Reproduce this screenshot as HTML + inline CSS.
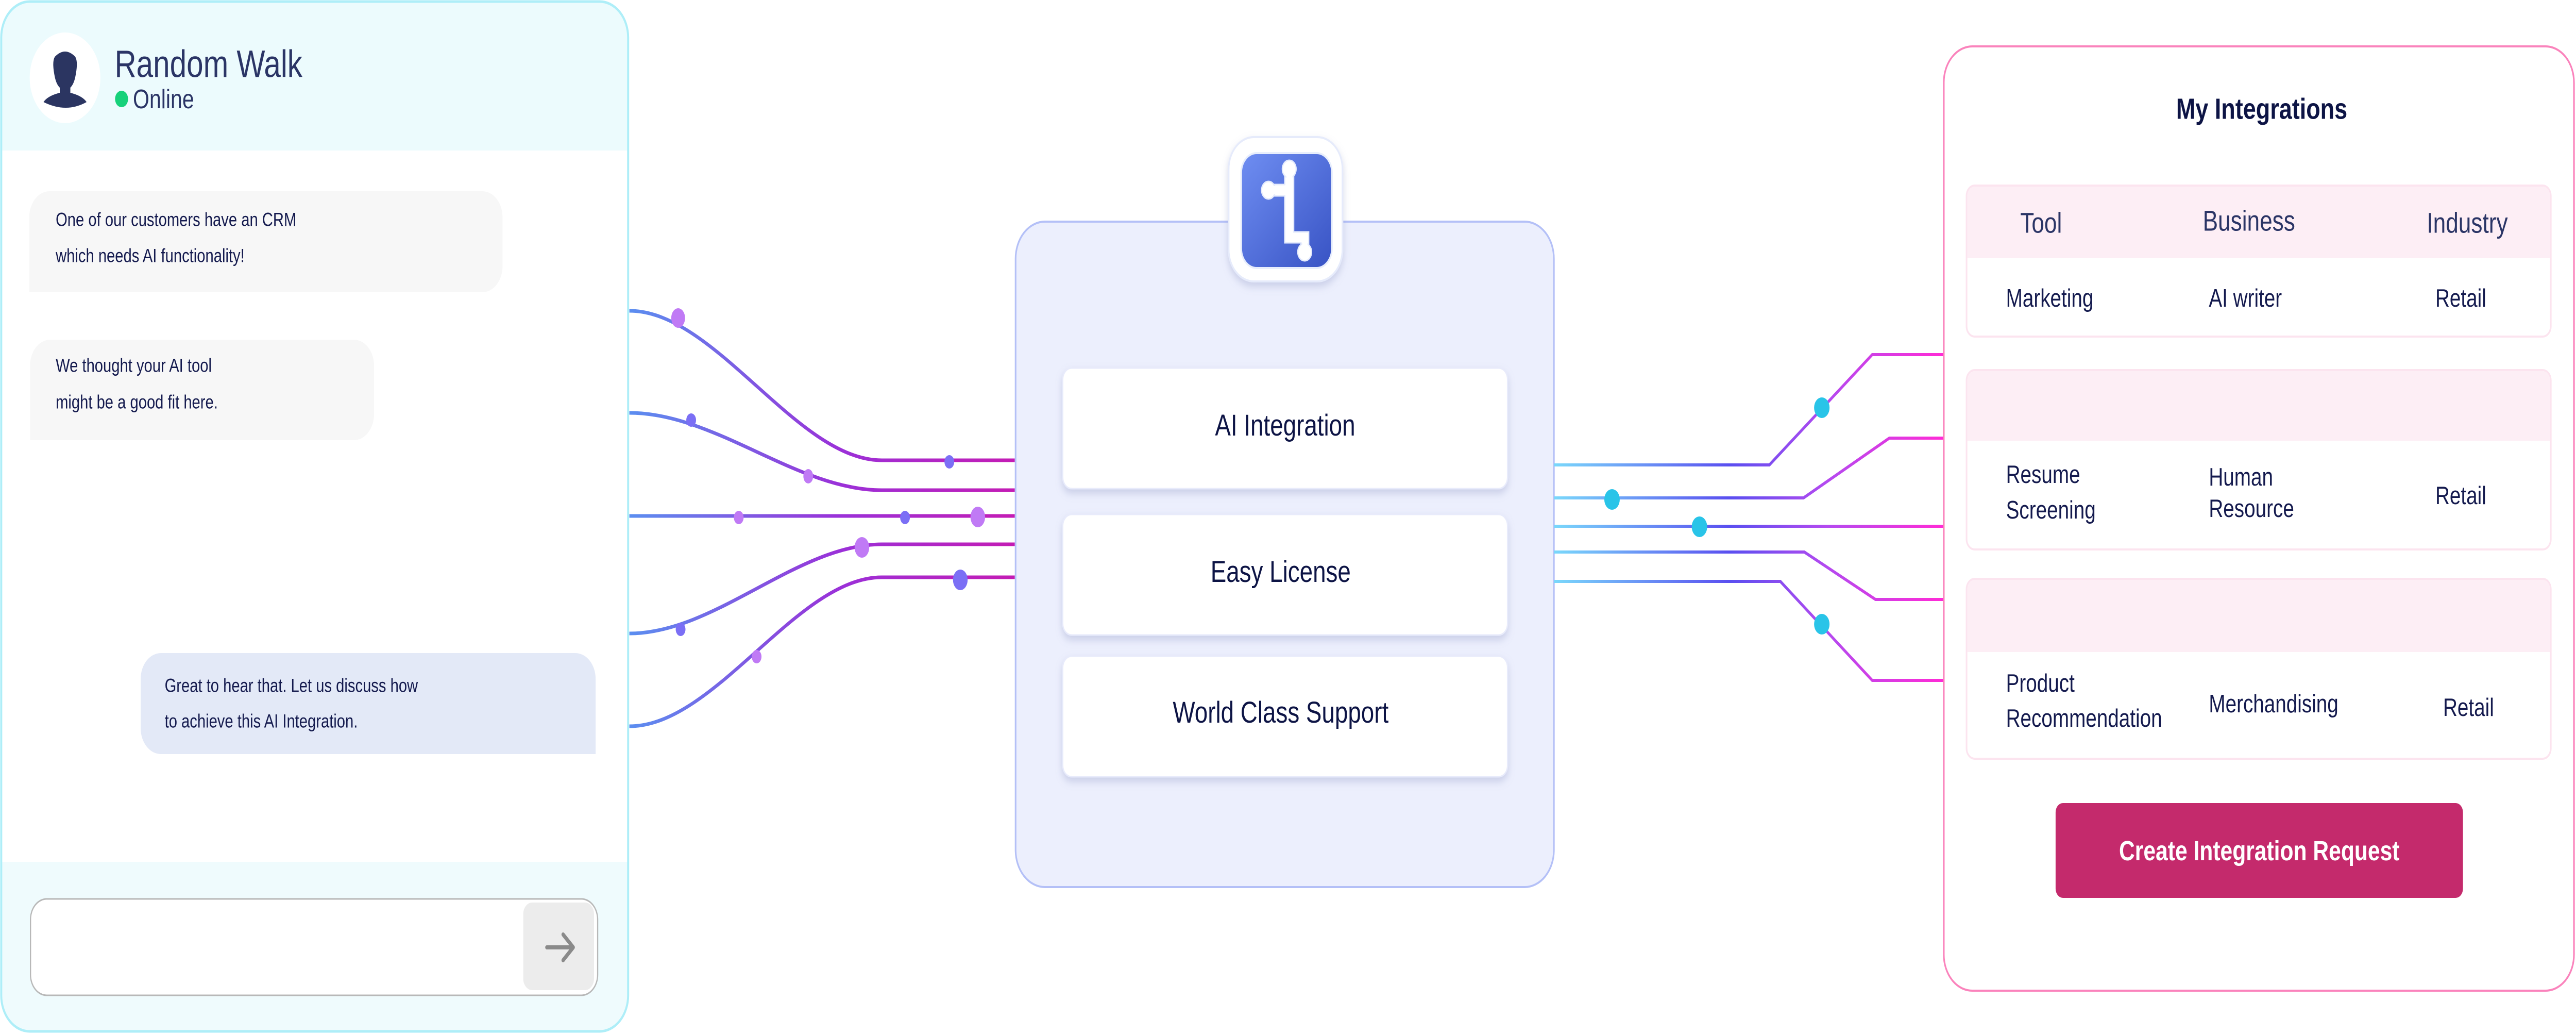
<!DOCTYPE html>
<html><head><meta charset="utf-8"><style>
html,body{margin:0;padding:0;background:#fff;overflow:hidden;width:100%;height:100%;}
svg{display:block;width:100vw;height:100vh;}
text{font-family:"Liberation Sans",sans-serif;}
</style></head><body>
<svg viewBox="0 0 6336 2008" preserveAspectRatio="none" xmlns="http://www.w3.org/2000/svg">
<defs>
<linearGradient id="gl" x1="1548" y1="0" x2="2496" y2="0" gradientUnits="userSpaceOnUse">
<stop offset="0" stop-color="#5b8ef0"/><stop offset="0.55" stop-color="#9b30d8"/><stop offset="1" stop-color="#c41cb4"/></linearGradient>
<linearGradient id="gr" x1="3822" y1="0" x2="4780" y2="0" gradientUnits="userSpaceOnUse">
<stop offset="0" stop-color="#7ad8fb"/><stop offset="0.45" stop-color="#5a4ff0"/><stop offset="0.7" stop-color="#b44af0"/><stop offset="1" stop-color="#ff2bd6"/></linearGradient>
<linearGradient id="gi" x1="0" y1="0" x2="1" y2="1">
<stop offset="0" stop-color="#6f8ef2"/><stop offset="1" stop-color="#3853c4"/></linearGradient>
<filter id="sh" x="-10%" y="-10%" width="120%" height="140%"><feDropShadow dx="0" dy="8" stdDeviation="8" flood-color="#8890c0" flood-opacity="0.35"/></filter>
<clipPath id="lp"><rect x="3" y="3" width="1542" height="1998" rx="70"/></clipPath>
</defs>

<!-- LEFT PANEL -->
<g clip-path="url(#lp)">
<rect x="0" y="0" width="1548" height="2004" fill="#fff"/>
<rect x="0" y="0" width="1548" height="292" fill="#ecfbfd"/>
<rect x="0" y="1672" width="1548" height="340" fill="#effbfd"/>
</g>
<rect x="3" y="3" width="1542" height="1998" rx="70" fill="none" stroke="#aeeef8" stroke-width="5"/>
<ellipse cx="160" cy="151" rx="87" ry="88" fill="#fff"/>
<path d="M135 150 q-8 -30 0 -40 q25 -20 50 0 q8 10 0 40 q-4 14 -12 20 v10 q30 6 40 18 q-50 22 -106 0 q10 -12 40 -18 v-10 q-8 -6 -12 -20z" fill="#2b3561"/>
<text x="282" y="125" font-size="74" fill="#2b3566" dominant-baseline="central">Random Walk</text>
<circle cx="299" cy="192" r="16" fill="#17d17a"/>
<text x="327" y="192" font-size="52" fill="#2b3566" dominant-baseline="central">Online</text>

<path d="M72 371 H1186 a50 50 0 0 1 50 50 V517 a50 50 0 0 1 -50 50 H72 V421 a50 50 0 0 1 50 -50z" fill="#f7f7f7"/>
<text x="137" y="427" font-size="37" fill="#141a4e" dominant-baseline="central">One of our customers have an CRM</text>
<text x="137" y="497" font-size="37" fill="#141a4e" dominant-baseline="central">which needs AI functionality!</text>

<path d="M74 659 H870 a50 50 0 0 1 50 50 V804 a50 50 0 0 1 -50 50 H74 V709 a50 50 0 0 1 50 -50z" fill="#f7f7f7"/>
<text x="137" y="710" font-size="37" fill="#141a4e" dominant-baseline="central">We thought your AI tool</text>
<text x="137" y="781" font-size="37" fill="#141a4e" dominant-baseline="central">might be a good fit here.</text>

<path d="M396 1267 H1415 a50 50 0 0 1 50 50 V1463 H396 a50 50 0 0 1 -50 -50 V1317 a50 50 0 0 1 50 -50z" fill="#e3e9f7"/>
<text x="405" y="1331" font-size="37" fill="#141a4e" dominant-baseline="central">Great to hear that. Let us discuss how</text>
<text x="405" y="1400" font-size="37" fill="#141a4e" dominant-baseline="central">to achieve this AI Integration.</text>

<rect x="75" y="1744" width="1395" height="187" rx="40" fill="#fff" stroke="#b8b8b8" stroke-width="3"/>
<rect x="1287" y="1751" width="174" height="170" rx="22" fill="#ececec"/>
<path d="M1345 1838 H1410 M1385 1813 L1410 1838 L1385 1863" fill="none" stroke="#8a8a8a" stroke-width="8" stroke-linecap="round" stroke-linejoin="round"/>

<!-- LEFT CONNECTORS -->
<g fill="none" stroke="url(#gl)" stroke-width="7">
<path d="M1548 603 C1760 603 1960 893 2169 893 H2496"/>
<path d="M1548 801 C1760 801 1960 951 2169 951 H2496"/>
<path d="M1548 1001 H2496"/>
<path d="M1548 1229 C1760 1229 1960 1056 2169 1056 H2496"/>
<path d="M1548 1409 C1760 1409 1960 1120 2169 1120 H2496"/>
</g>
<g>
<ellipse cx="1668" cy="617" rx="17" ry="19" fill="#c07af5"/>
<ellipse cx="2335" cy="896" rx="12" ry="13" fill="#7b6ff5"/>
<ellipse cx="1700" cy="815" rx="12" ry="13" fill="#7b6ff5"/>
<ellipse cx="1988" cy="924" rx="12" ry="14" fill="#c07af5"/>
<ellipse cx="1817" cy="1004" rx="12" ry="13" fill="#c07af5"/>
<ellipse cx="2226" cy="1004" rx="12" ry="13" fill="#7b6ff5"/>
<ellipse cx="2405" cy="1003" rx="18" ry="20" fill="#c07af5"/>
<ellipse cx="1674" cy="1221" rx="12" ry="13" fill="#7b6ff5"/>
<ellipse cx="2120" cy="1062" rx="18" ry="20" fill="#c07af5"/>
<ellipse cx="1861" cy="1274" rx="12" ry="13" fill="#c07af5"/>
<ellipse cx="2362" cy="1125" rx="18" ry="20" fill="#7b6ff5"/>
</g>

<!-- CENTER PANEL -->
<rect x="2498" y="430" width="1324" height="1291" rx="72" fill="#eceffd" stroke="#b4c0f7" stroke-width="4"/>
<rect x="3022" y="266" width="280" height="280" rx="62" fill="#fff" stroke="#e6ebfb" stroke-width="4" filter="url(#sh)"/>
<rect x="3053" y="297" width="223" height="223" rx="38" fill="url(#gi)" stroke="#e8eefc" stroke-width="4"/>
<g fill="#fff" stroke="#e6ecfc" stroke-width="3">
<path d="M3160 338 V358 H3130 V380 H3160 V471 H3200 V489 H3219 V450 H3182 V338 Z"/>
<circle cx="3171" cy="328" r="17"/>
<circle cx="3120" cy="369" r="17"/>
<circle cx="3209" cy="489" r="17"/>
</g>
<rect x="3164" y="336" width="15" height="130" fill="#fff"/>
<rect x="3124" y="361" width="40" height="16" fill="#fff"/>
<rect x="3164" y="453" width="52" height="15" fill="#fff"/>
<rect x="3203" y="453" width="13" height="40" fill="#fff"/>

<g filter="url(#sh)">
<rect x="2614" y="714" width="1094" height="234" rx="22" fill="#fff" stroke="#e8ebfb" stroke-width="3"/>
<rect x="2614" y="998" width="1094" height="234" rx="22" fill="#fff" stroke="#e8ebfb" stroke-width="3"/>
<rect x="2614" y="1273" width="1094" height="234" rx="22" fill="#fff" stroke="#e8ebfb" stroke-width="3"/>
</g>
<g font-size="58" fill="#0d1445" text-anchor="middle" dominant-baseline="central">
<text x="3161" y="826">AI Integration</text>
<text x="3150" y="1110">Easy License</text>
<text x="3150" y="1383">World Class Support</text>
</g>

<!-- RIGHT CONNECTORS -->
<g fill="none" stroke="url(#gr)" stroke-width="6">
<path d="M3822 902 H4352 L4605 688 H4780"/>
<path d="M3822 966 H4436 L4647 850 H4780"/>
<path d="M3822 1021 H4780"/>
<path d="M3822 1071 H4438 L4613 1163 H4780"/>
<path d="M3822 1128 H4379 L4605 1320 H4780"/>
</g>
<g fill="#29c4e8">
<ellipse cx="4481" cy="791" rx="19" ry="20"/>
<ellipse cx="3965" cy="969" rx="19" ry="20"/>
<ellipse cx="4180" cy="1022" rx="19" ry="20"/>
<ellipse cx="4481" cy="1211" rx="19" ry="20"/>
</g>

<!-- RIGHT PANEL -->
<rect x="4781" y="90" width="1550" height="1832" rx="70" fill="#fff" stroke="#fa83bc" stroke-width="4"/>
<text x="5563" y="211" font-size="57" font-weight="bold" fill="#0d1445" text-anchor="middle" dominant-baseline="central">My Integrations</text>

<g stroke="#fce4ef" stroke-width="4">
<rect x="4837" y="360" width="1437" height="293" rx="20" fill="#fff"/>
<rect x="4837" y="718" width="1437" height="348" rx="20" fill="#fff"/>
<rect x="4837" y="1123" width="1437" height="349" rx="20" fill="#fff"/>
</g>
<g fill="#fdeef5">
<path d="M4857 362 H6254 a18 18 0 0 1 18 18 V501 H4839 V380 a18 18 0 0 1 18 -18z"/>
<path d="M4857 720 H6254 a18 18 0 0 1 18 18 V855 H4839 V738 a18 18 0 0 1 18 -18z"/>
<path d="M4857 1125 H6254 a18 18 0 0 1 18 18 V1265 H4839 V1143 a18 18 0 0 1 18 -18z"/>
</g>
<g font-size="56" fill="#2b3566" dominant-baseline="central">
<text x="4969" y="432">Tool</text>
<text x="5418" y="428">Business</text>
<text x="5969" y="432">Industry</text>
</g>
<g font-size="49" fill="#141a4e" dominant-baseline="central">
<text x="4934" y="579">Marketing</text>
<text x="5433" y="579">AI writer</text>
<text x="5990" y="579">Retail</text>
<text x="4934" y="921">Resume</text>
<text x="4934" y="990">Screening</text>
<text x="5433" y="926">Human</text>
<text x="5433" y="987">Resource</text>
<text x="5990" y="962">Retail</text>
<text x="4934" y="1326">Product</text>
<text x="4934" y="1394">Recommendation</text>
<text x="5433" y="1366">Merchandising</text>
<text x="6009" y="1373">Retail</text>
</g>
<rect x="5056" y="1558" width="1002" height="184" rx="18" fill="#c42a6c"/>
<text x="5557" y="1651" font-size="54" font-weight="bold" fill="#fff" text-anchor="middle" dominant-baseline="central">Create Integration Request</text>
</svg>
</body></html>
